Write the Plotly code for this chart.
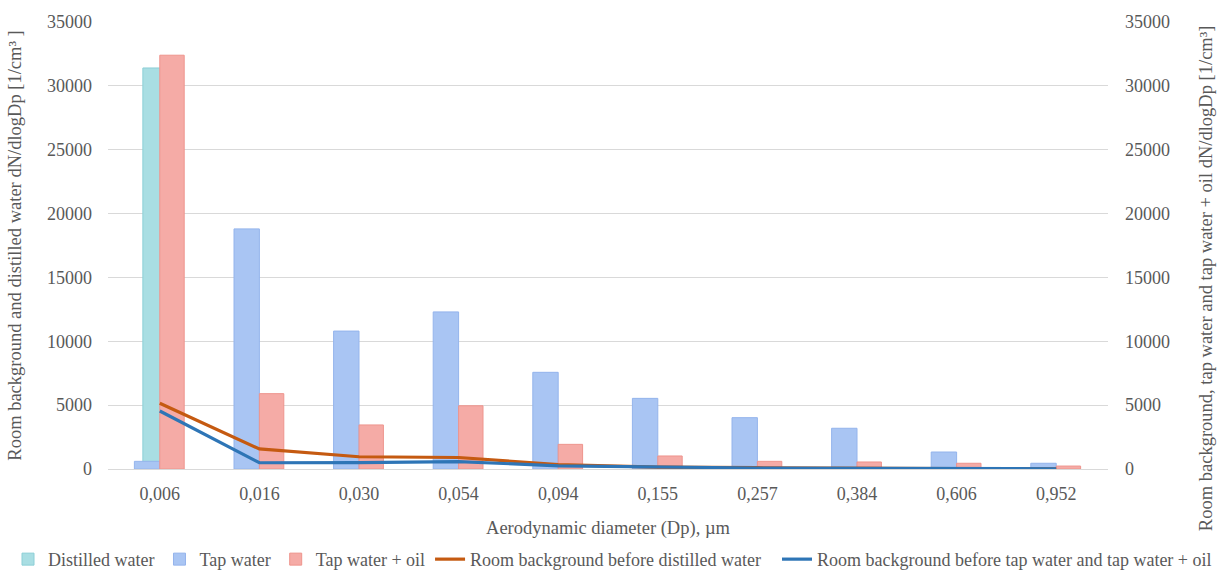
import plotly.graph_objects as go

# Particle size bins (aerodynamic diameter, µm)
diameters = ["0,006", "0,016", "0,030", "0,054", "0,094", "0,155", "0,257", "0,384", "0,606", "0,952"]

# dN/dlogDp [1/cm³]
distilled_water = [31400, None, None, None, None, None, None, None, None, None]
tap_water = [600, 18800, 10800, 12300, 7570, 5530, 4020, 3190, 1330, 450]
tap_water_oil = [32400, 5900, 3450, 4950, 1930, 1020, 600, 550, 450, 230]
bg_before_distilled = [5150, 1570, 960, 900, 350, 150, 100, 50, 30, 20]
bg_before_tap = [4540, 490, 500, 580, 250, 150, 80, 50, 30, 20]

y_ticks = [0, 5000, 10000, 15000, 20000, 25000, 30000, 35000]

FONT = "Times New Roman"
TXT = "#595959"
GRID = "#D9D9D9"


def f(size):
    return dict(family=FONT, size=size, color=TXT)


fig = go.Figure()

fig.add_trace(go.Bar(
    x=diameters, y=distilled_water, name="Distilled water",
    offset=-0.17, width=0.2, yaxis="y", legend="legend",
    marker=dict(color="#A9DEE3", line=dict(color="#8CCFD6", width=1)),
))
fig.add_trace(go.Bar(
    x=diameters, y=tap_water, name="Tap water",
    offset=-0.255, width=0.255, yaxis="y2", legend="legend",
    marker=dict(color="#A9C5F3", line=dict(color="#94B4EC", width=1)),
))
fig.add_trace(go.Bar(
    x=diameters, y=tap_water_oil, name="Tap water + oil",
    offset=0.0, width=0.245, yaxis="y2", legend="legend",
    marker=dict(color="#F5ABA6", line=dict(color="#EE948D", width=1)),
))
fig.add_trace(go.Scatter(
    x=diameters, y=bg_before_distilled, mode="lines", yaxis="y2", legend="legend",
    name="Room background before distilled water",
    line=dict(color="#C55A11", width=3.2),
))
fig.add_trace(go.Scatter(
    x=diameters, y=bg_before_tap, mode="lines", yaxis="y2", legend="legend2",
    name="Room background before tap water and tap water + oil",
    line=dict(color="#2E75B6", width=3.2),
))

legend_common = dict(
    orientation="h", yanchor="bottom", y=-0.2437,
    font=f(18), itemwidth=30, tracegroupgap=0, traceorder="normal",
    bgcolor="rgba(0,0,0,0)",
)

fig.update_layout(
    width=1222, height=572,
    margin=dict(l=108, r=114, t=22, b=103, autoexpand=False),
    paper_bgcolor="white", plot_bgcolor="white",
    font=f(18),
    barmode="overlay",
    showlegend=True,
    legend=dict(x=-0.1, xanchor="left", **legend_common),
    legend2=dict(x=1.109, xanchor="right", **legend_common),
    xaxis=dict(
        type="category", categoryorder="array", categoryarray=diameters,
        range=[-0.52, 9.52], automargin=False,
        showgrid=False, showline=True, linecolor=GRID, linewidth=1,
        ticks="", tickfont=f(18), ticklabelstandoff=8,
        title=dict(text="Aerodynamic diameter (Dp), µm", font=f(18.5), standoff=18),
    ),
    yaxis=dict(
        range=[0, 35000], tickvals=y_ticks, ticktext=[str(v) for v in y_ticks],
        automargin=False,
        showgrid=True, gridcolor=GRID, gridwidth=1, zeroline=False,
        showline=False, ticks="", tickfont=f(18), ticklabelstandoff=15,
        title=dict(text="Room background and distilled water dN/dlogDp [1/cm³ ]",
                   font=f(18.5), standoff=20),
    ),
    yaxis2=dict(
        overlaying="y", side="right", automargin=False,
        range=[0, 35000], tickvals=y_ticks, ticktext=[str(v) for v in y_ticks],
        showgrid=False, zeroline=False, showline=False, ticks="",
        tickfont=f(18), ticklabelstandoff=16,
    ),
    annotations=[dict(
        text="Room background, tap water and tap water + oil dN/dlogDp [1/cm³]",
        xref="paper", yref="paper", x=1.098, y=0.427,
        xanchor="center", yanchor="middle", textangle=-90,
        showarrow=False, font=f(18.5),
    )],
)

fig.write_html("out.html")
